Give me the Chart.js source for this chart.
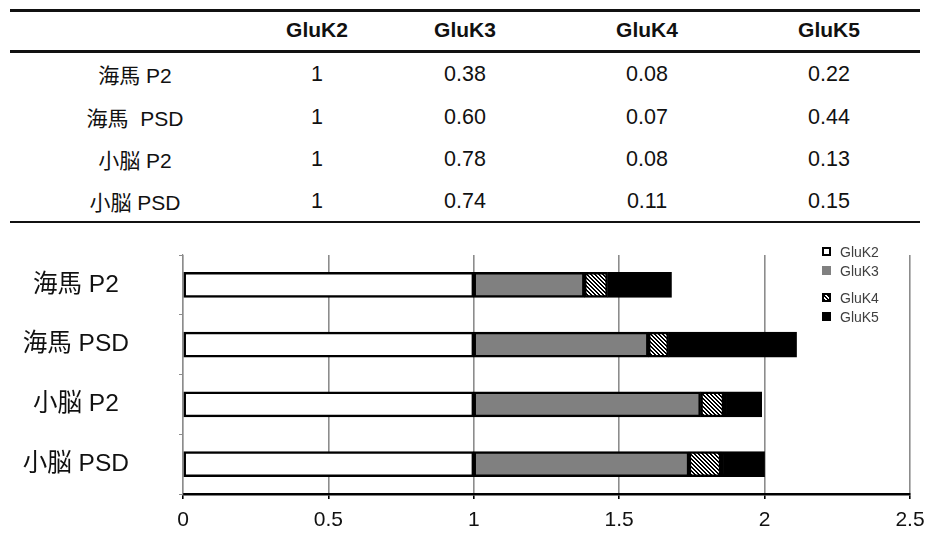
<!DOCTYPE html>
<html lang="ja">
<head>
  <meta charset="UTF-8" />
  <title>GluK subunit ratio</title>
  <script src="https://cdn.jsdelivr.net/npm/chart.js"></script>
  <style>
    body {
      margin: 0;
      width: 925px;
      height: 534px;
      background: #fff;
      position: relative;
      overflow: hidden;
      font-family: 'Liberation Sans', Arial, 'Noto Sans CJK JP', sans-serif;
      color: #000;
    }

    .rule {
      position: absolute;
      left: 10px;
      width: 910px;
      background: #111;
    }

    .cell {
      position: absolute;
      transform: translate(-50%, -50%);
      white-space: pre;
      font-size: 21.5px;
      color: #111;
    }

    .cell.head { font-weight: bold; font-size: 21px; }
    .cell.row { font-size: 21px; }

    .chart-box {
      position: absolute;
      left: 0;
      top: 230px;
      width: 925px;
      height: 304px;
    }
  </style>
</head>
<body>
  <div class="rule" style="top:9px;height:2.5px"></div>
  <div class="rule" style="top:50px;height:2.5px"></div>
  <div class="rule" style="top:220.5px;height:2.5px"></div>
  <div id="table"></div>

  <div class="chart-box">
    <canvas id="stackChart"></canvas>
  </div>

  <script>
    // data
    const categories = ['海馬 P2', '海馬 PSD', '小脳 P2', '小脳 PSD'];
    const tableRowLabels = ['海馬 P2', '海馬  PSD', '小脳 P2', '小脳 PSD'];
    const subunits = ['GluK2', 'GluK3', 'GluK4', 'GluK5'];
    const gluK2 = [1, 1, 1, 1];
    const gluK3 = [0.38, 0.60, 0.78, 0.74];
    const gluK4 = [0.08, 0.07, 0.08, 0.11];
    const gluK5 = [0.22, 0.44, 0.13, 0.15];
    const xTickLabels = ['0', '0.5', '1', '1.5', '2', '2.5'];

    const series = [gluK2, gluK3, gluK4, gluK5];

    // ---- table on top ----
    const table = document.getElementById('table');
    const colX = [135, 317, 465, 647, 829];
    const headY = 30;
    const rowY = [74, 117, 159, 201];

    function addCell(text, x, y, cls) {
      const d = document.createElement('div');
      d.className = 'cell ' + cls;
      d.textContent = text;
      d.style.left = x + 'px';
      d.style.top = y + 'px';
      table.appendChild(d);
    }

    subunits.forEach((s, i) => addCell(s, colX[i + 1], headY, 'head'));
    tableRowLabels.forEach((lab, r) => {
      addCell(lab, colX[0], rowY[r], 'row');
      series.forEach((vals, c) => {
        const v = vals[r];
        addCell(c === 0 ? String(v) : v.toFixed(2), colX[c + 1], rowY[r], '');
      });
    });

    // ---- hatch pattern for GluK4 (white "\" stripes on black) ----
    function makeHatch() {
      const c = document.createElement('canvas');
      c.width = 4;
      c.height = 4;
      const g = c.getContext('2d');
      g.fillStyle = '#000';
      g.fillRect(0, 0, 4, 4);
      g.fillStyle = '#fff';
      for (let y = 0; y < 4; y++) {
        g.fillRect(y, y, 1, 1);
        g.fillRect((y + 1) % 4, y, 1, 1);
      }
      return g.createPattern(c, 'repeat');
    }

    const fills = ['#ffffff', '#808080', makeHatch(), '#000000'];

    // legend drawn inside the plot, top right
    const cornerLegend = {
      id: 'cornerLegend',
      afterDraw(chart) {
        const ctx = chart.ctx;
        const x = 822;
        const ys = [21, 40, 67, 86];
        ctx.save();
        ctx.font = '14px "Liberation Sans", Arial, sans-serif';
        ctx.textBaseline = 'middle';
        chart.data.datasets.forEach((ds, i) => {
          const y = ys[i];
          ctx.fillStyle = ds.backgroundColor;
          ctx.fillRect(x, y - 4, 9, 9);
          if (i === 0 || i === 2) {
            ctx.strokeStyle = '#000';
            ctx.lineWidth = 2;
            ctx.strokeRect(x + 1, y - 3, 7, 7);
          }
          ctx.fillStyle = '#404040';
          ctx.fillText(ds.label, x + 18, y + 2);
        });
        ctx.restore();
      }
    };

    new Chart(document.getElementById('stackChart'), {
      type: 'bar',
      data: {
        labels: categories,
        datasets: subunits.map((name, i) => ({
          label: name,
          data: series[i],
          backgroundColor: fills[i],
          borderColor: '#000',
          borderWidth: 2.5,
          borderSkipped: false,
          barThickness: 25
        }))
      },
      options: {
        indexAxis: 'y',
        responsive: true,
        maintainAspectRatio: false,
        animation: false,
        layout: { padding: { top: 25, right: 15, left: 0, bottom: 0 } },
        plugins: {
          legend: { display: false },
          tooltip: { enabled: false }
        },
        scales: {
          x: {
            stacked: true,
            min: 0,
            max: 2.5,
            afterFit: s => {
              s.height = 40;
              s.paddingLeft = 0;
              s.paddingRight = 0;
            },
            ticks: {
              stepSize: 0.5,
              color: '#111',
              padding: 9,
              font: { family: '"Liberation Sans", Arial, sans-serif', size: 21 },
              callback: (v, i) => xTickLabels[i]
            },
            grid: {
              color: '#8c8c8c',
              lineWidth: 1.6,
              tickColor: '#000',
              tickLength: 5
            },
            border: { color: '#000', width: 2.5 }
          },
          y: {
            stacked: true,
            afterFit: s => {
              s.width = 183;
              s.paddingTop = 0;
              s.paddingBottom = 0;
            },
            ticks: {
              color: '#111',
              crossAlign: 'center',
              padding: 50,
              font: { family: '"Liberation Sans", "Noto Sans CJK JP", sans-serif', size: 24.5 }
            },
            grid: {
              offset: true,
              drawOnChartArea: false,
              color: '#8c8c8c',
              tickLength: 4
            },
            border: { color: '#8c8c8c', width: 1.2 }
          }
        }
      },
      plugins: [cornerLegend]
    });
  </script>
</body>
</html>
